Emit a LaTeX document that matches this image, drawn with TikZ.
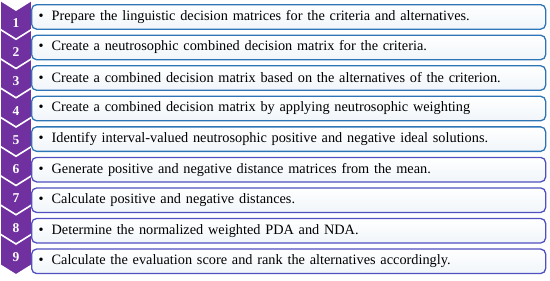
\documentclass[tikz,border=0pt]{standalone}
\usepackage{fontspec}
\setmainfont{Liberation Serif}
\usepackage{tikz}
\usetikzlibrary{positioning}
\usepackage{xcolor}
\definecolor{stepviolet}{HTML}{7030A0}
\definecolor{boxblue}{HTML}{2E75B6}
\definecolor{boxindigo}{HTML}{5050C0}

\begin{document}
\begin{tikzpicture}[
      x=1pt, y=-1pt,
      node distance=4.75pt,
      every node/.style={font=\fontsize{14.3}{16}\selectfont},
      box/.style={
        rounded corners=5pt,
        draw=boxblue,
        top color=white,
        bottom color=boxblue!7,
        line width=1.3pt,
        text width=500pt,
        inner xsep=7pt,
        inner ysep=2pt,
        minimum height=24.5pt,
        align=left,
        anchor=north west
      },
      chev/.style={fill=stepviolet, draw=white, line width=1.6pt, line join=miter},
      num/.style={text=white, font=\fontsize{13.5}{16}\selectfont\bfseries}
    ]
      \useasboundingbox (0,0) rectangle (550,281);
      % chevrons, drawn top to bottom so each one overlaps the previous
      \foreach \i in {1,...,9} {
        \pgfmathsetmacro{\t}{(\i-1)*29.25}
        \draw[chev] (0,\t) -- (16,\t+10) -- (32,\t) -- (32,\t+31)
          -- (16,\t+41) -- (0,\t+31) -- cycle;
        \node[num] (n\i) at (16,\t+23) {\i};
      }
      \newcommand{\itm}[1]{\makebox[13pt][l]{\textbullet}#1}
      \node[box] (s1) at (31,4) {\itm{Prepare the linguistic decision matrices for the criteria and alternatives.}};
      \node[box, below=of s1] (s2) {\itm{Create a neutrosophic combined decision matrix for the criteria.}};
      \node[box, below=of s2] (s3) {\itm{Create a combined decision matrix based on the alternatives of the criterion.}};
      \node[box, below=of s3] (s4) {\itm{Create a combined decision matrix by applying neutrosophic weighting}};
      \node[box, below=of s4] (s5) {\itm{Identify interval-valued neutrosophic positive and negative ideal solutions.}};
      \node[box, below=of s5, draw=boxindigo] (s6) {\itm{Generate positive and negative distance matrices from the mean.}};
      \node[box, below=of s6, draw=boxindigo] (s7) {\itm{Calculate positive and negative distances.}};
      \node[box, below=of s7, draw=boxindigo] (s8) {\itm{Determine the normalized weighted PDA and NDA.}};
      \node[box, below=of s8, draw=boxindigo] (s9) {\itm{Calculate the evaluation score and rank the alternatives accordingly.}};
    \end{tikzpicture}
\end{document}
